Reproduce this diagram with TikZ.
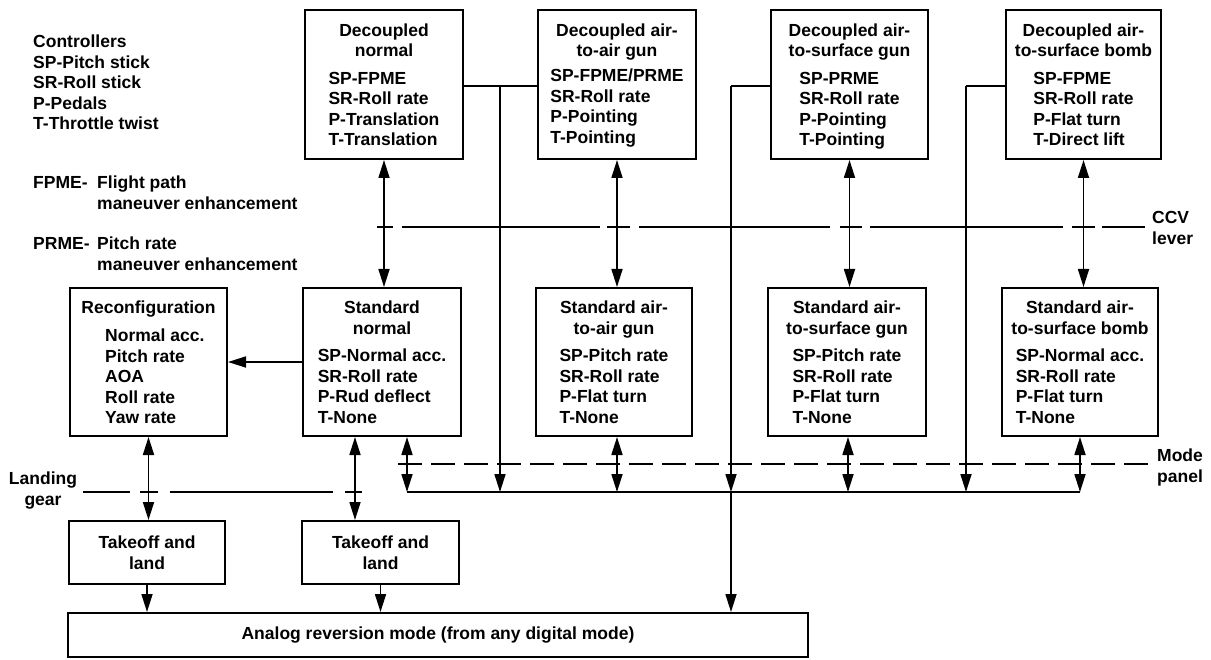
\documentclass[tikz,border=0pt]{standalone}
\usepackage{fontspec}
\setmainfont{Liberation Sans}
\usetikzlibrary{arrows.meta}
\begin{document}
\begin{tikzpicture}[x=1pt,y=-1pt,
  font=\fontsize{17.5}{20.5}\selectfont\bfseries,
  box/.style={draw, line width=2pt, inner sep=0pt},
  txt/.style={inner sep=0pt},
  conn/.style={line width=1.7pt},
  tip/.tip={Triangle[length=18pt,width=11pt]},
  arr/.style={conn, -tip},
  dbl/.style={conn, tip-tip},
  sep/.style={line width=1.6pt},
  sepd/.style={line width=1.6pt, dash pattern=on 24pt off 9pt},
]
\useasboundingbox (0,0) rectangle (1211,660);

% ---------- legend texts ----------
\node[txt, anchor=north west] (ctl) at (33,33) {\begin{tabular}{@{}l@{}}Controllers\\SP-Pitch stick\\SR-Roll stick\\P-Pedals\\T-Throttle twist\end{tabular}};
\node[txt, anchor=north west] (fpme) at (33,174) {\begin{tabular}{@{}p{64pt}@{}l@{}}FPME- & Flight path\\ & maneuver enhancement\end{tabular}};
\node[txt, anchor=north west] (prme) at (33,235) {\begin{tabular}{@{}p{64pt}@{}l@{}}PRME- & Pitch rate\\ & maneuver enhancement\end{tabular}};
\node[txt, anchor=north] (lg) at (43,470) {\begin{tabular}{@{}c@{}}Landing\\gear\end{tabular}};
\node[txt, anchor=north west] (ccv) at (1152,209) {\begin{tabular}{@{}l@{}}CCV\\lever\end{tabular}};
\node[txt, anchor=north west] (mp) at (1157,447) {\begin{tabular}{@{}l@{}}Mode\\panel\end{tabular}};

% ---------- decoupled boxes ----------
\node[box, minimum width=158pt, minimum height=149pt] (dn) at (384,84.5) {};
\node[txt, anchor=north] (dnT) at ([yshift=-12.5pt]dn.north) {\begin{tabular}{@{}c@{}}Decoupled\\normal\end{tabular}};
\node[txt, anchor=north] (dnB) at ([yshift=-60.5pt]dn.north) {\begin{tabular}{@{}l@{}}SP-FPME\\SR-Roll rate\\P-Translation\\T-Translation\end{tabular}};

\node[box, minimum width=158pt, minimum height=149pt] (da) at (617,84.5) {};
\node[txt, anchor=north] (daT) at ([yshift=-12.5pt]da.north) {\begin{tabular}{@{}c@{}}Decoupled air-\\to-air gun\end{tabular}};
\node[txt, anchor=north] (daB) at ([yshift=-58pt]da.north) {\begin{tabular}{@{}l@{}}SP-FPME/PRME\\SR-Roll rate\\P-Pointing\\T-Pointing\end{tabular}};

\node[box, minimum width=157pt, minimum height=149pt] (dg) at (849.5,84.5) {};
\node[txt, anchor=north] (dgT) at ([yshift=-12.5pt]dg.north) {\begin{tabular}{@{}c@{}}Decoupled air-\\to-surface gun\end{tabular}};
\node[txt, anchor=north] (dgB) at ([yshift=-60.5pt]dg.north) {\begin{tabular}{@{}l@{}}SP-PRME\\SR-Roll rate\\P-Pointing\\T-Pointing\end{tabular}};

\node[box, minimum width=155pt, minimum height=149pt] (db) at (1083.5,84.5) {};
\node[txt, anchor=north] (dbT) at ([yshift=-12.5pt]db.north) {\begin{tabular}{@{}c@{}}Decoupled air-\\to-surface bomb\end{tabular}};
\node[txt, anchor=north] (dbB) at ([yshift=-60.5pt]db.north) {\begin{tabular}{@{}l@{}}SP-FPME\\SR-Roll rate\\P-Flat turn\\T-Direct lift\end{tabular}};

% ---------- standard boxes ----------
\node[box, minimum width=157pt, minimum height=148pt] (rc) at (148.5,362) {};
\node[txt, anchor=north] (rcT) at ([yshift=-12pt]rc.north) {\begin{tabular}{@{}c@{}}Reconfiguration\end{tabular}};
\node[txt, anchor=north west] (rcB) at ([xshift=-43.5pt,yshift=-40pt]rc.north) {\begin{tabular}{@{}l@{}}Normal acc.\\Pitch rate\\AOA\\Roll rate\\Yaw rate\end{tabular}};

\node[box, minimum width=158pt, minimum height=148pt] (sn) at (382,362) {};
\node[txt, anchor=north] (snT) at ([yshift=-12pt]sn.north) {\begin{tabular}{@{}c@{}}Standard\\normal\end{tabular}};
\node[txt, anchor=north] (snB) at ([yshift=-60pt]sn.north) {\begin{tabular}{@{}l@{}}SP-Normal acc.\\SR-Roll rate\\P-Rud deflect\\T-None\end{tabular}};

\node[box, minimum width=156pt, minimum height=148pt] (sa) at (614,362) {};
\node[txt, anchor=north] (saT) at ([yshift=-12pt]sa.north) {\begin{tabular}{@{}c@{}}Standard air-\\to-air gun\end{tabular}};
\node[txt, anchor=north] (saB) at ([yshift=-60pt]sa.north) {\begin{tabular}{@{}l@{}}SP-Pitch rate\\SR-Roll rate\\P-Flat turn\\T-None\end{tabular}};

\node[box, minimum width=158pt, minimum height=148pt] (sg) at (847,362) {};
\node[txt, anchor=north] (sgT) at ([yshift=-12pt]sg.north) {\begin{tabular}{@{}c@{}}Standard air-\\to-surface gun\end{tabular}};
\node[txt, anchor=north] (sgB) at ([yshift=-60pt]sg.north) {\begin{tabular}{@{}l@{}}SP-Pitch rate\\SR-Roll rate\\P-Flat turn\\T-None\end{tabular}};

\node[box, minimum width=156pt, minimum height=148pt] (sb) at (1080,362) {};
\node[txt, anchor=north] (sbT) at ([yshift=-12pt]sb.north) {\begin{tabular}{@{}c@{}}Standard air-\\to-surface bomb\end{tabular}};
\node[txt, anchor=north] (sbB) at ([yshift=-60pt]sb.north) {\begin{tabular}{@{}l@{}}SP-Normal acc.\\SR-Roll rate\\P-Flat turn\\T-None\end{tabular}};

% ---------- takeoff and analog ----------
\node[box, minimum width=156pt, minimum height=63pt] (tl) at (147,552.5) {};
\node[txt] (tlT) at ([yshift=-2.5pt]tl.center) {\begin{tabular}{@{}c@{}}Takeoff and\\land\end{tabular}};
\node[box, minimum width=157pt, minimum height=63pt] (tr) at (380.5,552.5) {};
\node[txt] (trT) at ([yshift=-2.5pt]tr.center) {\begin{tabular}{@{}c@{}}Takeoff and\\land\end{tabular}};
\node[box, minimum width=740pt, minimum height=44pt] (an) at (438,635) {Analog reversion mode (from any digital mode)};

% ---------- helper coordinates ----------
\coordinate (busL) at (407,492);
\coordinate (busR) at (1080,492);
\coordinate (c355) at (355,0);
\coordinate (c617) at (617,0);
\coordinate (c848) at (848,0);
\coordinate (j1) at (500,86);
\coordinate (j2) at (731,86);
\coordinate (j3) at (966,86);

% ---------- separator lines ----------
\draw[sep] (377,227) -- (393,227) (402,227) -- (600,227) (607,227) -- (630,227)
  (639,227) -- (830,227) (840,227) -- (862,227) (870,227) -- (1063,227)
  (1072,227) -- (1095,227) (1102,227) -- (1145,227);
\draw[sep] (83,492) -- (130,492) (140,492) -- (158,492) (170,492) -- (333,492) (345,492) -- (362,492);
\draw[sepd] (398,464) -- (1150,464);

% ---------- connectors ----------
\draw[dbl] (dn.south) -- (dn.south |- sn.north);
\draw[dbl] (da.south) -- (da.south |- sa.north);
\draw[dbl] (dg.south) -- (dg.south |- sg.north);
\draw[dbl] (db.south) -- (db.south |- sb.north);

\draw[arr] (sn.west) -- (rc.east);
\draw[dbl] (rc.south) -- (rc.south |- tl.north);
\draw[dbl] (sn.south -| c355) -- (tr.north -| c355);

\draw[conn] (busL) -- (busR);
\draw[dbl] (sn.south -| busL) -- (busL);
\draw[dbl] (sa.south -| c617) -- (busL -| c617);
\draw[dbl] (sg.south -| c848) -- (busL -| c848);
\draw[dbl] (sb.south -| busR) -- (busR);

\draw[conn] (dn.east |- j1) -- (da.west |- j1);
\draw[arr] (j1) -- (j1 |- busL);
\draw[conn] (j2) -- (dg.west |- j2);
\draw[arr] (j2) -- (j2 |- busL);
\draw[arr] (j2 |- busL) -- (j2 |- an.north);
\draw[conn] (j3) -- (db.west |- j3);
\draw[arr] (j3) -- (j3 |- busL);

\draw[arr] (tl.south) -- (tl.south |- an.north);
\draw[arr] (tr.south) -- (tr.south |- an.north);
\end{tikzpicture}
\end{document}
